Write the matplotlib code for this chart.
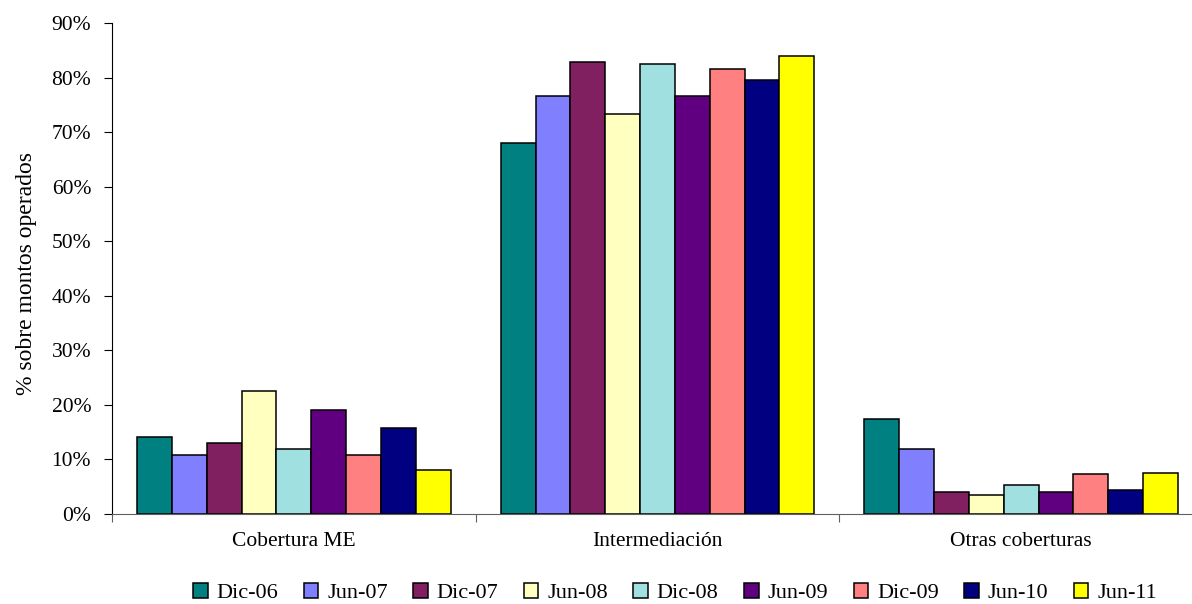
import numpy as np
import matplotlib.pyplot as plt
from matplotlib.ticker import PercentFormatter

plt.rcParams['font.family'] = ['Liberation Serif', 'DejaVu Serif']

categories = ['Cobertura ME', 'Intermediación', 'Otras coberturas']
periods = ['Dic-06', 'Jun-07', 'Dic-07', 'Jun-08', 'Dic-08',
           'Jun-09', 'Dic-09', 'Jun-10', 'Jun-11']
colors = ['#008080', '#8080FF', '#802060', '#FFFFC0', '#A0E0E0',
          '#600080', '#FF8080', '#000080', '#FFFF00']

# share of operated amounts (%), one list per period: ME, intermediation, other
dic06 = [14.2, 68.0, 17.5]
jun07 = [10.9, 76.7, 12.0]
dic07 = [13.1, 82.8, 4.0]
jun08 = [22.6, 73.3, 3.5]
dic08 = [12.0, 82.5, 5.4]
jun09 = [19.0, 76.7, 4.0]
dic09 = [10.9, 81.5, 7.3]
jun10 = [15.7, 79.6, 4.4]
jun11 = [8.1, 84.0, 7.6]
series = [dic06, jun07, dic07, jun08, dic08, jun09, dic09, jun10, jun11]

fig = plt.figure(figsize=(11.92, 6.04), dpi=100)
ax = fig.add_axes([112 / 1192, 90 / 604, 1091 / 1192, 491 / 604])

x = np.arange(len(categories))
w = 0.0958
for j, (vals, lab, c) in enumerate(zip(series, periods, colors)):
    ax.bar(x + (j - 4) * w, vals, w, color=c, edgecolor='black',
           linewidth=1.1, label=lab)

ax.set_xlim(-0.5, 2.5)
ax.set_ylim(0, 90)
ax.set_yticks(np.arange(0, 91, 10))
ax.yaxis.set_major_formatter(PercentFormatter(decimals=0))
ax.set_xticks([-0.5, 0.5, 1.5, 2.5])
ax.set_xticklabels([])
ax.set_xticks(x, minor=True)
ax.set_xticklabels(categories, minor=True)
ax.tick_params(axis='x', which='minor', length=0, pad=13, labelsize=15.5)
ax.tick_params(axis='x', which='major', length=6, color='#606060')
ax.tick_params(axis='y', length=6, labelsize=15.5, pad=9)
for s in ['top', 'right']:
    ax.spines[s].set_visible(False)
ax.spines['bottom'].set_color('#606060')
ax.set_ylabel('% sobre montos operados', fontsize=17)
ax.yaxis.set_label_coords(-0.069, 0.49)

fig.legend(loc='center', bbox_to_anchor=(675 / 1192, 1 - 593 / 604), ncol=9,
           frameon=False, fontsize=16, handlelength=0.65, handleheight=0.65,
           handletextpad=0.4, columnspacing=1.15)

fig.savefig('out.png', dpi=100)
